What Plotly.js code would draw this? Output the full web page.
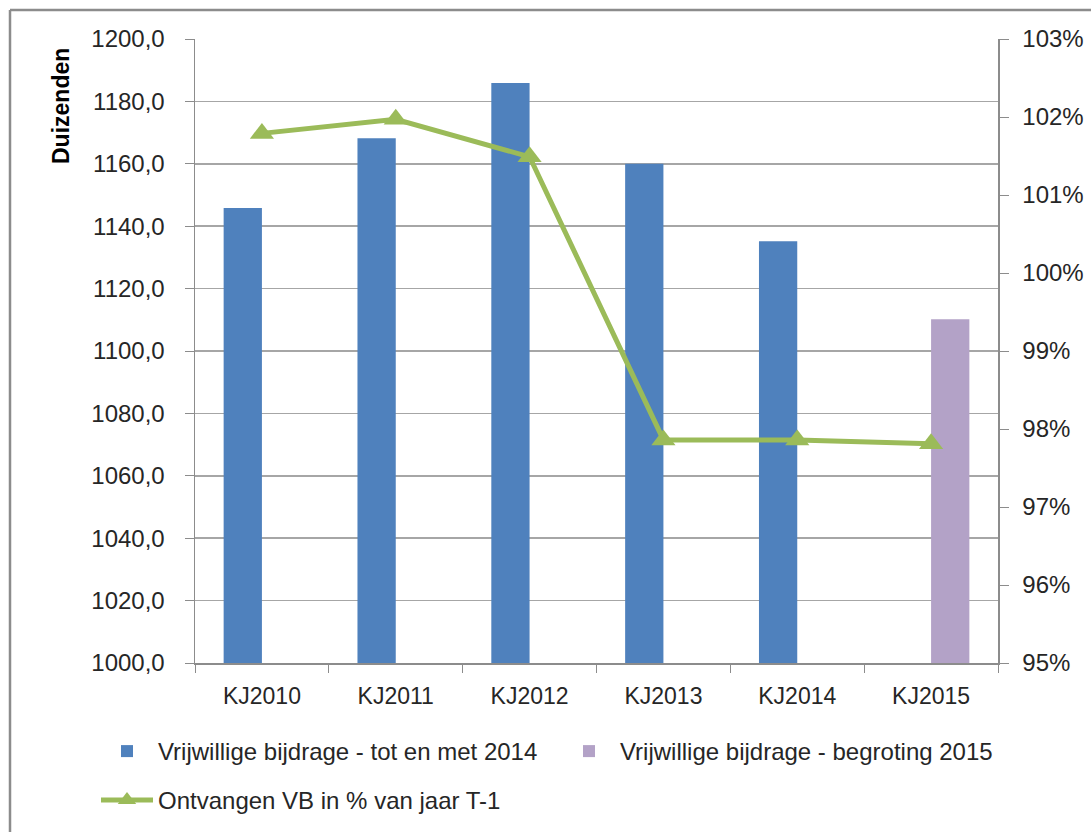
<!DOCTYPE html>
<html>
<head>
<meta charset="utf-8">
<script src="https://cdn.plot.ly/plotly-3.0.1.min.js"></script>
<style>
  html, body { margin: 0; padding: 0; background: #fff; }
  #chart { width: 1091px; height: 832px; }
</style>
</head>
<body>
<div id="chart"></div>
<script>
const categories = ['KJ2010', 'KJ2011', 'KJ2012', 'KJ2013', 'KJ2014', 'KJ2015'];
const bijdrageTot2014 = [1145.8, 1168.2, 1185.9, 1160.0, 1135.2, null];
const bijdrageBegroting2015 = [null, null, null, null, null, 1110.2];
const ontvangenPct = [101.79, 101.97, 101.49, 97.86, 97.86, 97.81];

const fontFam = '"Liberation Sans", Arial, sans-serif';
const txt = '#262626';

const traces = [
  {
    type: 'bar', name: 'Vrijwillige bijdrage - tot en met 2014',
    x: categories, y: bijdrageTot2014,
    marker: { color: '#4F81BD' }, yaxis: 'y', legend: 'legend'
  },
  {
    type: 'bar', name: 'Vrijwillige bijdrage - begroting 2015',
    x: categories, y: bijdrageBegroting2015,
    marker: { color: '#B3A2C7' }, yaxis: 'y', legend: 'legend'
  },
  {
    type: 'scatter', mode: 'lines+markers', name: 'Ontvangen VB in % van jaar T-1',
    x: categories, y: ontvangenPct, yaxis: 'y2', legend: 'legend2',
    line: { color: '#9BBB59', width: 5 },
    marker: { symbol: 'triangle-up', size: 21, color: '#9BBB59' }
  }
];

const W = 1091, H = 832;
const L = 195, R = 93, T = 39, B = 169;
const pw = W - L - R, ph = H - T - B;
const px = v => (v - L) / pw;
const py = v => (H - B - v) / ph;

const legendFont = { family: fontFam, size: 24, color: txt };

const layout = {
  width: W, height: H,
  margin: { l: L, r: R, t: T, b: B, pad: 0, autoexpand: false },
  paper_bgcolor: '#ffffff', plot_bgcolor: '#ffffff',
  font: { family: fontFam, size: 22, color: txt },
  separators: ',.',
  barmode: 'group', bargap: 0.428, bargroupgap: 0,
  showlegend: true,
  legend: {
    orientation: 'h', x: px(96), xanchor: 'left', y: py(729), yanchor: 'top',
    font: legendFont, traceorder: 'normal', itemwidth: 52, entrywidth: 395,
    bgcolor: 'rgba(0,0,0,0)'
  },
  legend2: {
    orientation: 'h', x: px(96), xanchor: 'left', y: py(778), yanchor: 'top',
    font: legendFont, traceorder: 'normal', itemwidth: 52,
    bgcolor: 'rgba(0,0,0,0)'
  },
  xaxis: {
    type: 'category', range: [-0.5, 5.5],
    showline: true, linecolor: '#8c8c8c', linewidth: 1.5,
    ticks: 'outside', tickson: 'boundaries', ticklen: 8, tickcolor: '#8c8c8c',
    showgrid: false, zeroline: false,
    tickfont: { family: fontFam, size: 23, color: txt },
    ticklabelstandoff: 12,
    fixedrange: true
  },
  yaxis: {
    range: [1000, 1200], dtick: 20, tick0: 1000, tickformat: '.1f',
    showline: true, linecolor: '#8c8c8c', linewidth: 1.5,
    ticks: 'outside', ticklen: 9, tickcolor: '#8c8c8c',
    showgrid: true, gridcolor: '#a6a6a6', gridwidth: 1.5,
    zeroline: false,
    tickfont: { family: fontFam, size: 24, color: txt },
    ticklabelstandoff: 15,
    fixedrange: true
  },
  yaxis2: {
    overlaying: 'y', side: 'right',
    range: [95, 103], dtick: 1, tick0: 95, ticksuffix: '%',
    showline: true, linecolor: '#8c8c8c', linewidth: 1.5,
    ticks: 'outside', ticklen: 9, tickcolor: '#8c8c8c',
    showgrid: false, zeroline: false,
    tickfont: { family: fontFam, size: 24, color: txt },
    ticklabelstandoff: 9,
    fixedrange: true
  },
  annotations: [
    {
      text: '<b>Duizenden</b>', xref: 'paper', yref: 'paper',
      x: px(61), y: py(106), xanchor: 'center', yanchor: 'middle',
      textangle: -90, showarrow: false,
      font: { family: fontFam, size: 23, color: '#000000' }
    }
  ],
  shapes: [
    { type: 'line', xref: 'paper', yref: 'paper', x0: px(10), x1: px(1100), y0: py(10), y1: py(10),
      line: { color: '#8c8c8c', width: 2.5 } },
    { type: 'line', xref: 'paper', yref: 'paper', x0: px(10), x1: px(10), y0: py(10), y1: py(840),
      line: { color: '#8c8c8c', width: 2.5 } }
  ]
};

Plotly.newPlot('chart', traces, layout, { displayModeBar: false, staticPlot: true });
</script>
</body>
</html>
